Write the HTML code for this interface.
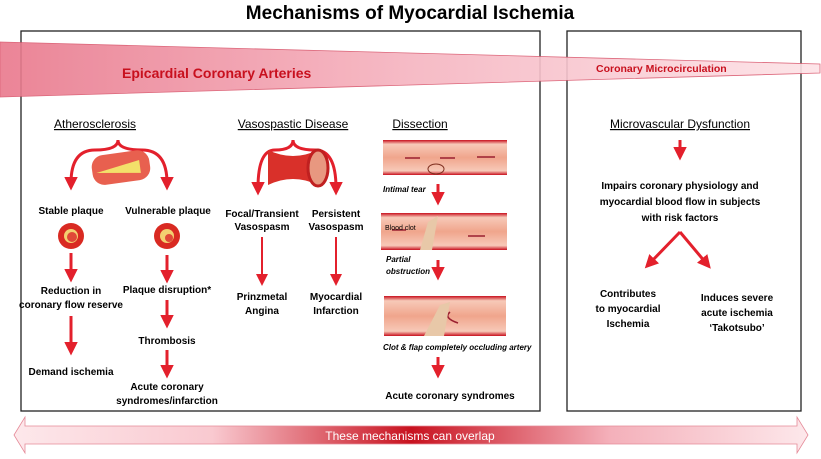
<!DOCTYPE html>
<html><head><meta charset="utf-8"><style>body{margin:0;background:#fff}svg{display:block}text{font-family:"Liberation Sans",sans-serif}</style></head><body>
<svg width="821" height="459" viewBox="0 0 821 459" xmlns="http://www.w3.org/2000/svg">
<defs>
<linearGradient id="w" x1="0" x2="1" y1="0" y2="0"><stop offset="0" stop-color="#e9788c"/><stop offset="0.5" stop-color="#f6b4c0"/><stop offset="1" stop-color="#fde3e7"/></linearGradient>
<linearGradient id="b" x1="0" x2="1"><stop offset="0" stop-color="#fde8eb"/><stop offset="0.25" stop-color="#f9c9d0"/><stop offset="0.5" stop-color="#c8121f"/><stop offset="0.75" stop-color="#f4b0ba"/><stop offset="1" stop-color="#fde8eb"/></linearGradient>
<linearGradient id="v" x1="0" x2="0" y1="0" y2="1"><stop offset="0" stop-color="#c8101e"/><stop offset="0.12" stop-color="#f7c9b8"/><stop offset="0.5" stop-color="#f0a58c"/><stop offset="0.88" stop-color="#f7c9b8"/><stop offset="1" stop-color="#c8101e"/></linearGradient>
<marker id="a" markerWidth="4.5" markerHeight="4.5" refX="2" refY="2.25" orient="auto" markerUnits="strokeWidth"><path d="M0,0L4.5,2.25L0,4.5z" fill="#e3202c"/></marker>
<marker id="a2" markerWidth="6" markerHeight="6" refX="2" refY="3" orient="auto" markerUnits="strokeWidth"><path d="M0,0L6,3L0,6z" fill="#e3202c"/></marker>
</defs>
<text x="410" y="19" text-anchor="middle" font-size="19" font-weight="bold">Mechanisms of Myocardial Ischemia</text>
<rect x="21" y="31" width="519" height="380" fill="none" stroke="#222" stroke-width="1.3"/>
<rect x="567" y="31" width="234" height="380" fill="none" stroke="#222" stroke-width="1.3"/>
<polygon points="0,42 820,64 820,73 0,97" fill="url(#w)" stroke="#d9566c" stroke-width="0.8" opacity="0.9"/>
<text x="122" y="78" font-size="14" font-weight="bold" fill="#c8101e">Epicardial Coronary Arteries</text>
<text x="596" y="72" font-size="10.5" font-weight="bold" fill="#c8101e">Coronary Microcirculation</text>
<g font-size="12" text-anchor="middle" text-decoration="underline">
<text x="95" y="128">Atherosclerosis</text><text x="293" y="128">Vasospastic Disease</text><text x="420" y="128">Dissection</text><text x="680" y="128">Microvascular Dysfunction</text></g>
<g fill="none" stroke="#e3202c" stroke-width="3">
<path d="M118,140 Q118,150 95,150 Q71,150 71,183" marker-end="url(#a)"/>
<path d="M118,140 Q118,150 142,150 Q167,150 167,183" marker-end="url(#a)"/>
<path d="M293,140 Q293,150 275,150 Q258,150 258,188" marker-end="url(#a)"/>
<path d="M293,140 Q293,150 315,150 Q336,150 336,188" marker-end="url(#a)"/>
<path d="M71,253V275" marker-end="url(#a)"/><path d="M71,316V348" marker-end="url(#a)"/>
<path d="M167,255V276" marker-end="url(#a)"/><path d="M167,300V321" marker-end="url(#a)"/><path d="M167,350V371" marker-end="url(#a)"/>
<path d="M262,237V278" stroke-width="2" marker-end="url(#a2)"/><path d="M336,237V278" stroke-width="2" marker-end="url(#a2)"/>
<path d="M438,184V198" marker-end="url(#a)"/><path d="M438,260V273" marker-end="url(#a)"/><path d="M438,357V371" marker-end="url(#a)"/>
<path d="M680,140V153" marker-end="url(#a)"/>
<path d="M680,232L650,263" marker-end="url(#a)"/><path d="M680,232L706,263" marker-end="url(#a)"/>
</g>
<g transform="rotate(-8 118 168)"><rect x="92" y="153" width="58" height="30" rx="12" fill="#e8604f"/><path d="M96,170L140,163L140,176z" fill="#f3e06a"/></g>
<path d="M268,150Q293,162 318,150V185Q293,173 268,185z" fill="#d9302a"/><ellipse cx="318" cy="168" rx="10" ry="18" fill="#e89880" stroke="#c02020" stroke-width="3"/>
<circle cx="71" cy="236" r="13" fill="#d92a22"/><circle cx="71" cy="236" r="7" fill="#f3d070"/><circle cx="72" cy="237" r="5" fill="#e04838"/>
<circle cx="167" cy="236" r="13" fill="#d92a22"/><circle cx="167" cy="236" r="7" fill="#f3d070"/><circle cx="169" cy="238" r="4" fill="#e04838"/>
<rect x="383" y="140" width="124" height="35" fill="url(#v)"/><rect x="381" y="213" width="126" height="37" fill="url(#v)"/><rect x="384" y="296" width="122" height="40" fill="url(#v)"/>
<g stroke="#9a2030" stroke-width="1.5" fill="none"><path d="M420,158H405M455,158H440M495,157H477M485,236H468M406,230H392M450,312Q443,318 458,323"/></g>
<ellipse cx="436" cy="169" rx="8" ry="5" fill="none" stroke="#803020"/>
<path d="M420,250L428,222L438,216L432,250z" fill="#e8c8a8"/><path d="M424,336L440,305L450,302L444,336z" fill="#e8c8a8"/>
<text x="385" y="230" font-size="7">Blood clot</text>
<g font-size="8" font-style="italic" font-weight="bold"><text x="383" y="192">Intimal tear</text><text x="386" y="262">Partial</text><text x="386" y="274">obstruction</text><text x="383" y="350">Clot &amp; flap completely occluding artery</text></g>
<g font-size="10" font-weight="bold" text-anchor="middle">
<text x="71" y="214">Stable plaque</text><text x="168" y="214">Vulnerable plaque</text>
<text x="71" y="294">Reduction in</text><text x="71" y="308">coronary flow reserve</text><text x="71" y="375">Demand ischemia</text>
<text x="167" y="293">Plaque disruption*</text><text x="167" y="344">Thrombosis</text><text x="167" y="390">Acute coronary</text><text x="167" y="404">syndromes/infarction</text>
<text x="262" y="217">Focal/Transient</text><text x="262" y="230">Vasospasm</text><text x="336" y="217">Persistent</text><text x="336" y="230">Vasospasm</text>
<text x="262" y="300">Prinzmetal</text><text x="262" y="314">Angina</text><text x="336" y="300">Myocardial</text><text x="336" y="314">Infarction</text>
<text x="450" y="399">Acute coronary syndromes</text>
<text x="680" y="189">Impairs coronary physiology and</text><text x="680" y="205">myocardial blood flow in subjects</text><text x="680" y="221">with risk factors</text>
<text x="628" y="297">Contributes</text><text x="628" y="312">to myocardial</text><text x="628" y="327">Ischemia</text>
<text x="737" y="301">Induces severe</text><text x="737" y="316">acute ischemia</text><text x="737" y="331">‘Takotsubo’</text>
</g>
<path d="M14,435L25,417V426H797V417L808,435L797,453V444H25V453z" fill="url(#b)" stroke="#e58a98" stroke-width="0.8"/>
<text x="410" y="440" text-anchor="middle" font-size="12" fill="#fff">These mechanisms can overlap</text>
</svg>
</body></html>
